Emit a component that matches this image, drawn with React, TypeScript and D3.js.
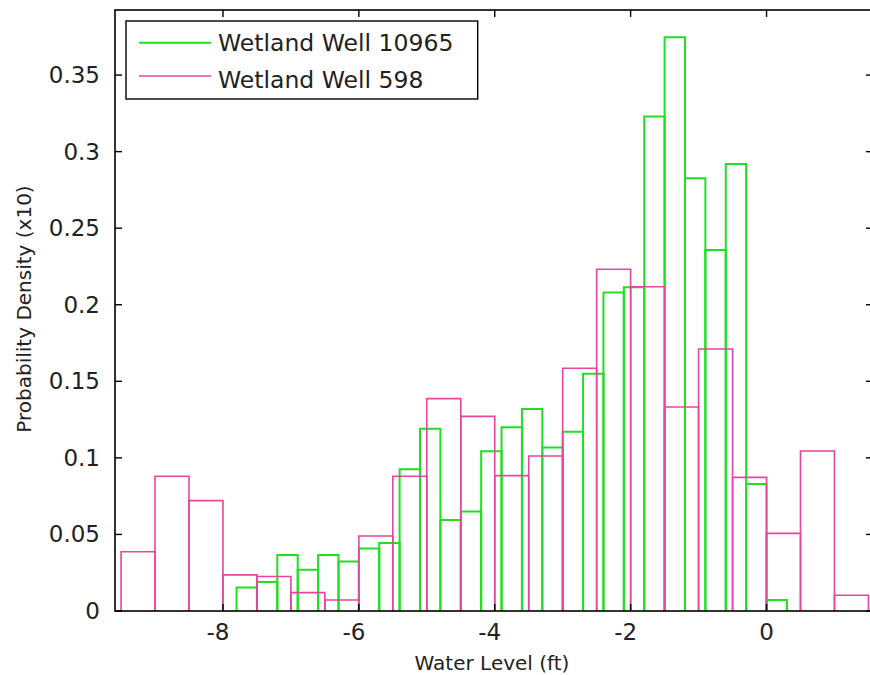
import React from "react";
import * as d3 from "d3";

// Green: Wetland Well 10965, bins of width 0.3 starting at -7.8
const greenStart = -7.8;
const greenWidth = 0.3;
const greenValues = [
  0.0153, 0.019, 0.0365, 0.0269, 0.0365, 0.0323, 0.0408, 0.0444, 0.0926, 0.119,
  0.0594, 0.0649, 0.1044, 0.12, 0.132, 0.1067, 0.117, 0.155, 0.208, 0.2114,
  0.3229, 0.3747, 0.2826, 0.2358, 0.292, 0.083, 0.0072,
];

// Pink: Wetland Well 598, bins of width 0.5 starting at -9.5
const pinkStart = -9.5;
const pinkWidth = 0.5;
const pinkValues = [
  0.0387, 0.088, 0.0721, 0.0236, 0.0225, 0.012, 0.0072, 0.049, 0.088, 0.1387,
  0.1271, 0.0884, 0.1012, 0.1585, 0.2232, 0.2118, 0.1332, 0.1711, 0.0873, 0.0507,
  0.1045, 0.0103,
];

const seriesNames = ["Wetland Well 10965", "Wetland Well 598"];
const xTicks = [-8, -6, -4, -2, 0];
const yTicks = [0, 0.05, 0.1, 0.15, 0.2, 0.25, 0.3, 0.35];
const xLabel = "Water Level (ft)";
const yLabel = "Probability Density (x10)";

const W = 870;
const H = 675;
const L = 115;
const R = 873;
const T = 10;
const B = 611;

const GREEN = "#1fe01f";
const PINK = "#e4479b";
const FONT = "'DejaVu Sans', Verdana, sans-serif";

export default function App() {
  const x = d3.scaleLinear().domain([-9.589, 1.567]).range([L, R]);
  const y = d3.scaleLinear().domain([0, 0.3925]).range([B, T]);

  const bars = (start: number, width: number, vals: number[]) =>
    vals.map((v, i) => {
      const x0 = x(start + i * width);
      const x1 = x(start + (i + 1) * width);
      const y0 = y(0);
      const y1 = y(v);
      return `M${x0},${y0}L${x0},${y1}L${x1},${y1}L${x1},${y0}`;
    });

  const greenPaths = bars(greenStart, greenWidth, greenValues);
  const pinkPaths = bars(pinkStart, pinkWidth, pinkValues);
  const tickLen = 7;

  return (
    <svg
      width={W}
      height={H}
      style={{ position: "absolute", left: 0, top: 0, background: "#fff" }}
    >
      <rect x={0} y={0} width={W} height={H} fill="#fff" />
      <g fill="none" strokeLinejoin="miter">
        {greenPaths.map((d, i) => (
          <path key={"g" + i} d={d} stroke={GREEN} strokeWidth={2} />
        ))}
        {pinkPaths.map((d, i) => (
          <path key={"p" + i} d={d} stroke={PINK} strokeWidth={1.6} />
        ))}
      </g>
      {/* axes box */}
      <rect x={L} y={T} width={R - L} height={B - T} fill="none" stroke="#000" strokeWidth={1.6} />
      {/* ticks */}
      <g stroke="#000" strokeWidth={1.4}>
        {xTicks.map((t) => (
          <g key={"xt" + t}>
            <line x1={x(t)} x2={x(t)} y1={B} y2={B - tickLen} />
            <line x1={x(t)} x2={x(t)} y1={T} y2={T + tickLen} />
          </g>
        ))}
        {yTicks.map((t) => (
          <g key={"yt" + t}>
            <line x1={L} x2={L + tickLen} y1={y(t)} y2={y(t)} />
            <line x1={R} x2={R - tickLen} y1={y(t)} y2={y(t)} />
          </g>
        ))}
      </g>
      <g fontFamily={FONT} fontSize={23} fill="#222">
        {xTicks.map((t) => (
          <text key={"xl" + t} x={x(t) - (t < 0 ? 5 : 0)} y={640} textAnchor="middle">
            {t < 0 ? "-" + Math.abs(t) : String(t)}
          </text>
        ))}
        {yTicks.map((t) => (
          <text key={"yl" + t} x={100} y={y(t) + 8} textAnchor="end">
            {String(t)}
          </text>
        ))}
      </g>
      <text
        x={492}
        y={670}
        textAnchor="middle"
        fontFamily={FONT}
        fontSize={20}
        fill="#222"
      >
        {xLabel}
      </text>
      <text
        transform={`translate(31,309) rotate(-90)`}
        textAnchor="middle"
        fontFamily={FONT}
        fontSize={20}
        fill="#222"
      >
        {yLabel}
      </text>
      {/* legend */}
      <rect x={126} y={21} width={351.7} height={78} fill="#fff" stroke="#000" strokeWidth={1.4} />
      <line x1={139} x2={211} y1={42.7} y2={42.7} stroke={GREEN} strokeWidth={2} />
      <line x1={139} x2={211} y1={76} y2={76} stroke={PINK} strokeWidth={1.6} />
      <g fontFamily={FONT} fontSize={23.5} fill="#222">
        <text x={218} y={50.5}>{seriesNames[0]}</text>
        <text x={218} y={88}>{seriesNames[1]}</text>
      </g>
    </svg>
  );
}
